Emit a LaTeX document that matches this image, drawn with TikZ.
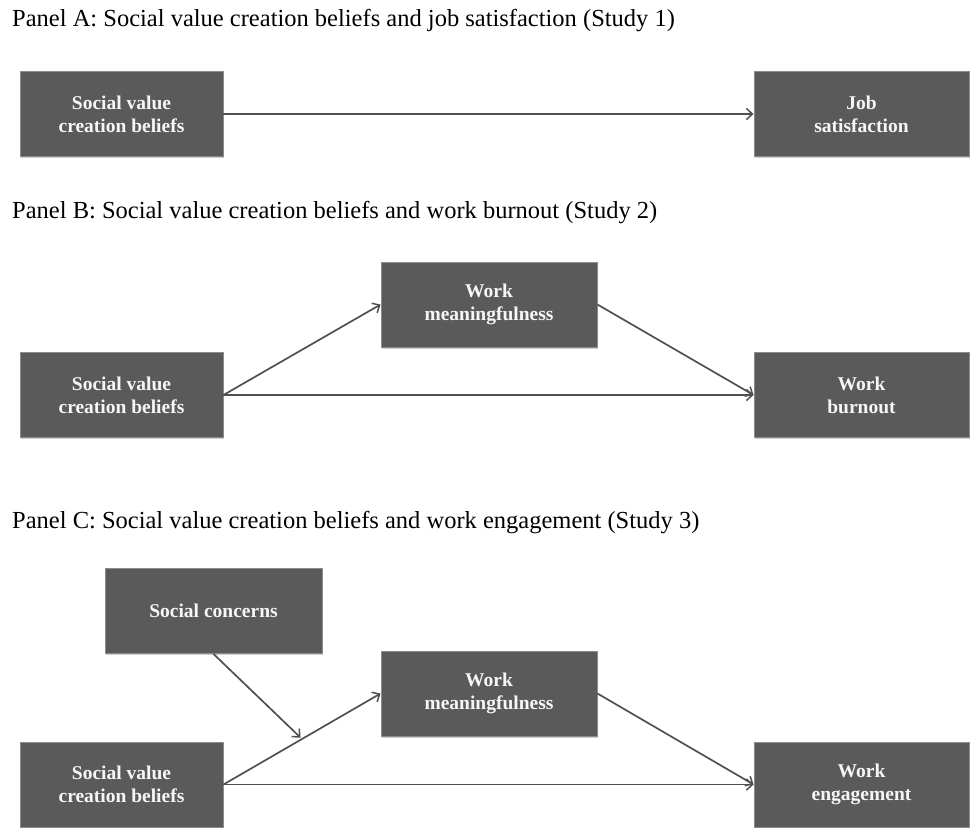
\documentclass[tikz,border=0pt]{standalone}
\usepackage{fontspec}
\setmainfont{Liberation Serif}
\usetikzlibrary{arrows.meta,shadows,calc}
\definecolor{boxfill}{HTML}{5A5A5A}
\definecolor{boxedge}{HTML}{8C8C8C}
\definecolor{linecol}{HTML}{505050}
\definecolor{boxtext}{HTML}{F6F6F6}
\tikzset{
  varbox/.style={rectangle, fill=boxfill, draw=boxedge, line width=0.9pt,
    minimum height=85pt, inner sep=2pt, align=center,
    text=boxtext, font=\fontsize{19.5}{23}\selectfont\bfseries,
    drop shadow={shadow xshift=1.2pt, shadow yshift=-1.8pt, fill=black!28, opacity=0.7}},
  narrowbox/.style={varbox, minimum width=203pt},
  widebox/.style={varbox, minimum width=216pt},
  paneltitle/.style={anchor=base west, inner sep=0pt, font=\fontsize{24.5}{28}\selectfont},
  link/.style={draw=linecol, line width=1.7pt, -{Straight Barb[length=6pt,width=11pt,line width=1.5pt]}}
}
\begin{document}
\begin{tikzpicture}[x=1pt,y=-1pt]
\useasboundingbox[fill=white] (0,0) rectangle (971,827);

% Panel A
\node[paneltitle] (tA) at (12,27) {Panel A: Social value creation beliefs and job satisfaction (Study 1)};
\node[narrowbox] (a1) at (121.5,114) {Social value\\creation beliefs};
\node[widebox, minimum width=215pt] (a2) at (861.5,114) {Job\\satisfaction};
\draw[link] (a1.east) -- (a2.west);

% Panel B
\node[paneltitle] (tB) at (12,218) {Panel B: Social value creation beliefs and work burnout (Study 2)};
\node[widebox] (bm) at (489,304.5) {Work\\meaningfulness};
\node[narrowbox] (b1) at (121.5,395) {Social value\\creation beliefs};
\node[widebox, minimum width=215pt] (b3) at (861.5,395) {Work\\burnout};
\draw[link] (b1.east) -- (bm.west);
\draw[link] (bm.east) -- (b3.west);
\draw[link] (b1.east) -- (b3.west);

% Panel C
\node[paneltitle] (tC) at (12,528) {Panel C: Social value creation beliefs and work engagement (Study 3)};
\node[widebox, minimum width=217pt] (cc) at (213.5,611) {Social concerns};
\node[widebox] (cm) at (489,693.5) {Work\\meaningfulness};
\node[narrowbox] (c1) at (121.5,784.5) {Social value\\creation beliefs};
\node[widebox, minimum width=215pt] (c3) at (861.5,784.5) {Work\\engagement};
\draw[link] (c1.east) -- (cm.west);
\draw[link] (cm.east) -- (c3.west);
\draw[link] (c1.east) -- (c3.west);
\coordinate (mod) at ($(c1.east)!0.5!(cm.west)$);
\draw[link, shorten >=2pt] (cc.south) -- (mod);
\end{tikzpicture}
\end{document}
